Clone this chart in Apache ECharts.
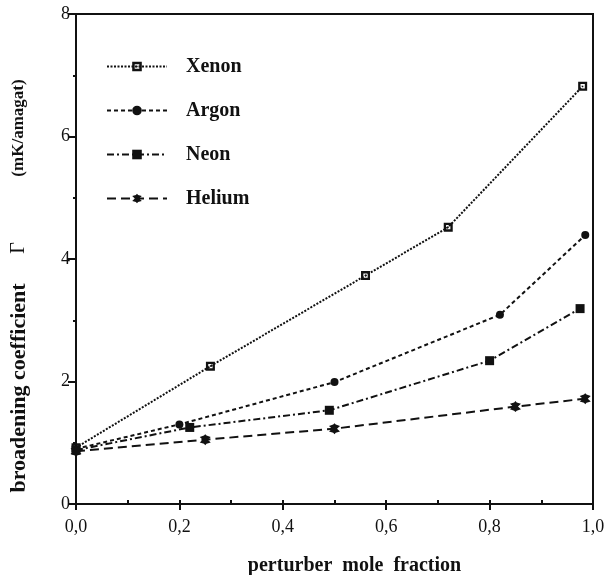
<!DOCTYPE html>
<html>
<head>
<meta charset="utf-8">
<script src="https://cdn.jsdelivr.net/npm/echarts@6/dist/echarts.min.js"></script>
<style>html,body{margin:0;padding:0;background:#fff}#c{width:605px;height:575px}</style>
</head>
<body>
<div id="c"></div>
<script>
var seriesNames = ['Xenon', 'Argon', 'Neon', 'Helium'];
var xenonX = [0, 0.26, 0.56, 0.72, 0.98];
var xenonY = [0.92, 2.25, 3.73, 4.52, 6.82];
var argonX = [0, 0.20, 0.50, 0.82, 0.985];
var argonY = [0.90, 1.30, 1.99, 3.09, 4.39];
var neonX = [0, 0.22, 0.49, 0.80, 0.975];
var neonY = [0.88, 1.25, 1.53, 2.34, 3.19];
var heliumX = [0, 0.25, 0.50, 0.85, 0.985];
var heliumY = [0.86, 1.05, 1.23, 1.59, 1.72];
var xTicks = [0, 0.2, 0.4, 0.6, 0.8, 1.0];
var yTicks = [0, 2, 4, 6, 8];

function pairs(xs, ys) { return xs.map(function (x, i) { return [x, ys[i]]; }); }

var K = '#111';
var serif = '"Liberation Serif", "DejaVu Serif", serif';
var openSq = 'path://M0,0H10V10H0Z M2.6,2.6V7.4H7.4V2.6Z M4.3,4.3H5.7V5.7H4.3Z';
var star = 'path://M5,0L6,1.27L9.33,2.5L7,5L9.33,7.5L6,8.73L5,10L4,8.73L0.67,7.5L3,5L0.67,2.5L4,1.27Z';

function mk(name, xs, ys, dash, symbol, size) {
  return {
    name: name, type: 'line', data: pairs(xs, ys),
    symbol: symbol, symbolSize: size,
    itemStyle: { color: K, borderWidth: 0 },
    lineStyle: { color: K, width: 2, type: dash },
    emphasis: { disabled: true }, animation: false
  };
}

function vText(txt, cy, size, bold) {
  return {
    type: 'text', x: 19, y: cy, rotation: Math.PI / 2,
    style: {
      text: txt, fontFamily: serif, fontWeight: bold ? 'bold' : 'normal', fontSize: size,
      fill: K, align: 'center', verticalAlign: 'middle'
    }
  };
}

var chart = echarts.init(document.getElementById('c'));
chart.setOption({
  animation: false,
  backgroundColor: '#fff',
  grid: {
    left: 76, right: 12, top: 14, bottom: 71, containLabel: false, outerBoundsMode: 'none',
    show: true, borderColor: K, borderWidth: 2, backgroundColor: 'transparent'
  },
  legend: {
    orient: 'vertical', left: 101, top: 48,
    itemWidth: 60, itemHeight: 12, itemGap: 17,
    data: seriesNames,
    textStyle: { fontFamily: serif, fontWeight: 'bold', fontSize: 20, color: K, lineHeight: 22, padding: [5, 0, 0, 14] }
  },
  xAxis: [{
    type: 'value', min: 0, max: 1, interval: 0.2,
    axisLine: { lineStyle: { color: K, width: 2 } },
    axisTick: { show: true, length: 6, lineStyle: { color: K, width: 2 } },
    splitLine: { show: false },
    axisLabel: {
      fontFamily: serif, fontSize: 18, color: K, margin: 14,
      formatter: function (v) { return xTicks.indexOf(+v.toFixed(1)) >= 0 ? v.toFixed(1).replace('.', ',') : ''; }
    },
    name: 'perturber  mole  fraction', nameLocation: 'middle', nameGap: 52,
    nameTextStyle: { fontFamily: serif, fontWeight: 'bold', fontSize: 20, color: K, padding: [0, 0, 0, 40] }
  }, {
    type: 'value', min: 0, max: 1, interval: 0.1, position: 'bottom',
    axisLine: { show: false },
    axisTick: { show: true, inside: true, length: 4, lineStyle: { color: K, width: 2 } },
    axisLabel: { show: false }, splitLine: { show: false }
  }],
  yAxis: {
    type: 'value', min: 0, max: 8, interval: 2,
    axisLine: { lineStyle: { color: K, width: 2 } },
    axisTick: { show: true, length: 8, lineStyle: { color: K, width: 2 } },
    minorTick: { show: true, splitNumber: 2, length: 3, lineStyle: { color: K, width: 2 } },
    splitLine: { show: false },
    axisLabel: {
      fontFamily: serif, fontSize: 18, color: K, margin: 6,
      formatter: function (v) { return yTicks.indexOf(v) >= 0 ? String(v) : ''; }
    }
  },
  graphic: [
    vText('broadening coefficient', 388, 22, true),
    vText('Γ', 248, 20, false),
    vText('(mK/amagat)', 128, 17, true)
  ],
  series: [
    mk('Xenon', xenonX, xenonY, [2, 1.5], openSq, 9),
    mk('Argon', argonX, argonY, [4, 3], 'circle', 8),
    mk('Neon', neonX, neonY, [7, 3, 2, 3], 'rect', 9),
    mk('Helium', heliumX, heliumY, [9, 5], star, 11)
  ]
});
</script>
</body>
</html>
